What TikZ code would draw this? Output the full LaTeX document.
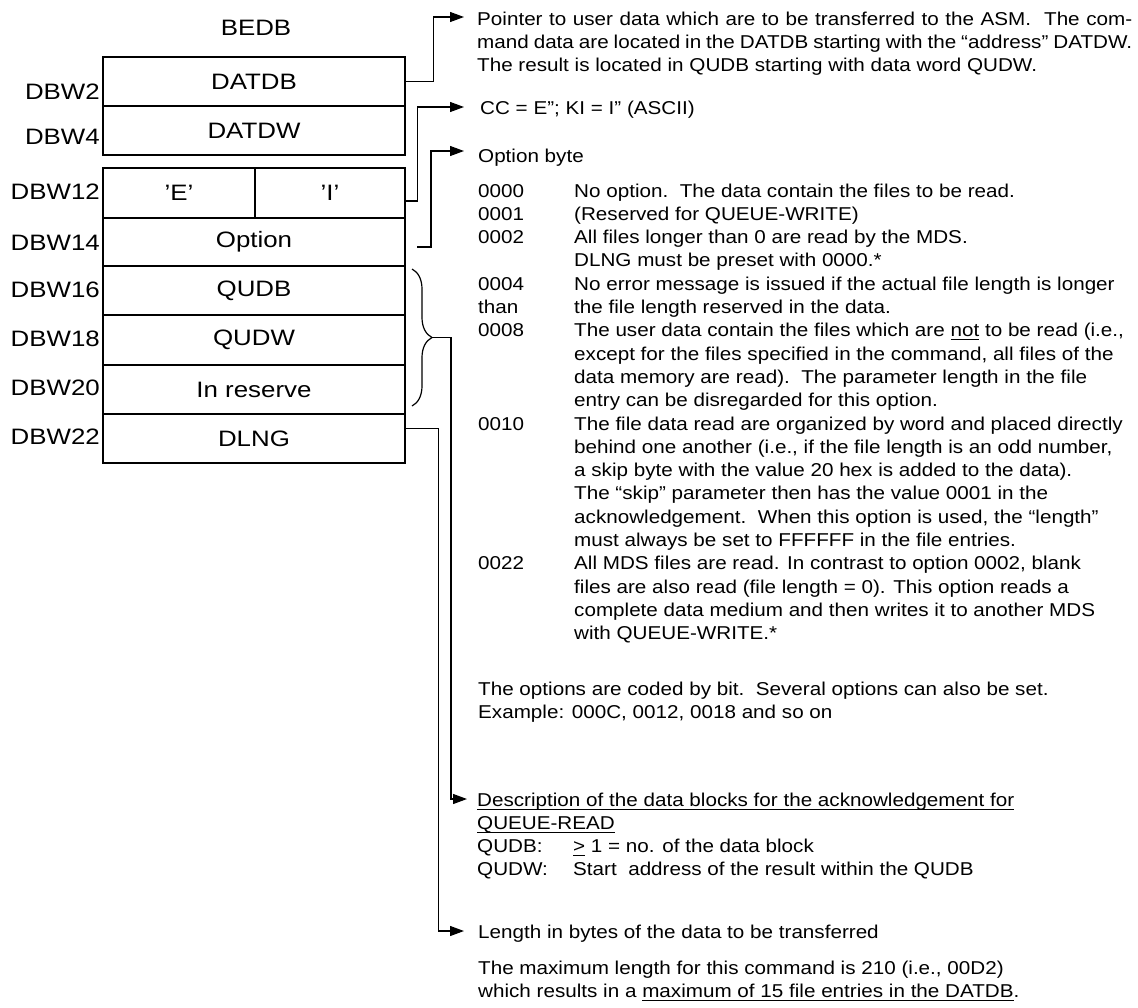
\documentclass[tikz,border=0pt]{standalone}
\usepackage{fontspec}
\setmainfont{Liberation Sans}[FakeStretch=1.11]
\newfontfamily\boxfont{Liberation Sans}[FakeStretch=1.16]
\usetikzlibrary{arrows.meta,decorations.pathreplacing}
\newcommand\myul[1]{\setbox0\hbox{#1}\rlap{\rule[-3.5pt]{\wd0}{1pt}}\box0\relax}
\begin{document}
\begin{tikzpicture}[x=1pt,y=-1pt,
  cell/.style={draw=black, line width=1.4pt, inner sep=0pt, minimum width=302pt,
    font={\boxfont\fontsize{22.3}{26}\selectfont}},
  lbl/.style={inner sep=0pt, anchor=east, font={\boxfont\fontsize{22.3}{26}\selectfont}},
  txt/.style={inner sep=0pt, anchor=base west, font={\fontsize{18.6}{23.3}\selectfont}},
  conn/.style={line width=1.2pt, draw=black},
  arr/.style={conn, -{Triangle[length=14pt,width=10pt]}}]
\fill[white] (0,0) rectangle (1138,1007);
\useasboundingbox (0,0) rectangle (1138,1007);

% title
\node[inner sep=0pt, font={\boxfont\fontsize{22.3}{26}\selectfont}] (bedb) at (256,28) {BEDB};

% boxes
\node[cell, minimum height=49pt] (datdb) at (254,81.5) {DATDB};
\node[cell, minimum height=49pt] (datdw) at (254,130.5) {DATDW};
\node[cell, minimum width=152pt, minimum height=50pt] (ce) at (179,193) {’E’};
\node[cell, minimum width=150pt, minimum height=50pt] (ci) at (330,193) {’I’};
\node[cell, minimum height=48pt] (opt) at (254,242) {Option};
\node[cell, minimum height=49pt] (qudb) at (254,290.5) {QUDB};
\node[cell, minimum height=50pt] (qudw) at (254,340) {QUDW};
\node[cell, minimum height=49pt] (inres) at (254,389.5) {In reserve};
\node[cell, minimum height=49pt] (dlng) at (254,438.5) {DLNG};

% left labels
\node[lbl] (l2) at (100,92) {DBW2};
\node[lbl] (l4) at (100,137) {DBW4};
\node[lbl] (l12) at (100,192) {DBW12};
\node[lbl] (l14) at (100,243) {DBW14};
\node[lbl] (l16) at (100,290) {DBW16};
\node[lbl] (l18) at (100,339) {DBW18};
\node[lbl] (l20) at (100,388) {DBW20};
\node[lbl] (l22) at (100,437) {DBW22};

% right texts
\node[txt] (p1) at (477,25) {\begin{tabular}[t]{@{}l@{}}
\makebox[655pt][s]{Pointer to user data which are to be transferred to the ASM.\ \ The com-}\\
\makebox[655pt][s]{mand data are located in the DATDB starting with the “address” DATDW.}\\
The result is located in QUDB starting with data word QUDW.
\end{tabular}};
\node[txt] (p2) at (480,114) {CC = E”; KI = I” (ASCII)};
\node[txt] (p3) at (478,162) {Option byte};
\node[txt] (p4) at (478,197) {\begin{tabular}[t]{@{}p{96pt}@{}l@{}}
0000 & No option.\ \ The data contain the files to be read.\\
0001 & (Reserved for QUEUE-WRITE)\\
0002 & All files longer than 0 are read by the MDS.\\
 & DLNG must be preset with 0000.*\\
0004 & No error message is issued if the actual file length is longer\\
than & the file length reserved in the data.\\
0008 & The user data contain the files which are \myul{not} to be read (i.e.,\\
 & except for the files specified in the command, all files of the\\
 & data memory are read).\ \ The parameter length in the file\\
 & entry can be disregarded for this option.\\
0010 & The file data read are organized by word and placed directly\\
 & behind one another (i.e., if the file length is an odd number,\\
 & a skip byte with the value 20 hex is added to the data).\\
 & The “skip” parameter then has the value 0001 in the\\
 & acknowledgement.\ \ When this option is used, the “length”\\
 & must always be set to FFFFFF in the file entries.\\
0022 & All MDS files are read. In contrast to option 0002, blank\\
 & files are also read (file length = 0). This option reads a\\
 & complete data medium and then writes it to another MDS\\
 & with QUEUE-WRITE.*
\end{tabular}};
\node[txt] (p5) at (478,695) {\begin{tabular}[t]{@{}l@{}}
The options are coded by bit.\ \ Several options can also be set.\\
Example: 000C, 0012, 0018 and so on
\end{tabular}};
\node[txt] (p6) at (477,806) {\begin{tabular}[t]{@{}p{96pt}@{}l@{}}
\multicolumn{2}{@{}l@{}}{\myul{Description of the data blocks for the acknowledgement for}}\\
\multicolumn{2}{@{}l@{}}{\myul{QUEUE-READ}}\\
QUDB: & \myul{>} 1 = no. of the data block\\
QUDW: & Start\ \ address of the result within the QUDB
\end{tabular}};
\node[txt] (p7) at (478,938) {Length in bytes of the data to be transferred};
\node[txt] (p8) at (478,974) {\begin{tabular}[t]{@{}l@{}}
The maximum length for this command is 210 (i.e., 00D2)\\
which results in a \myul{maximum of 15 file entries in the DATDB}.
\end{tabular}};

% arrow tips and free ends
\coordinate (a1) at (464,17);
\coordinate (a2) at (464,107);
\coordinate (a3) at (464,151);
\coordinate (a4) at (467,799);
\coordinate (a5) at (464,931);
\coordinate (o3) at (417,247);
\coordinate (bt) at (432,337.5);

% connectors
\draw[arr] (datdb.east) -- ++(28,0) |- (a1);
\draw[arr] ([yshift=-8pt]ci.east) -- ++(12,0) |- (a2);
\draw[arr] (o3) -- ++(14,0) |- (a3);
\draw[conn, decorate, decoration={brace, amplitude=20pt}] (412,269) -- (412,406);
\draw[arr] (bt) -- ++(19,0) |- (a4);
\draw[arr] ([yshift=10pt]dlng.east) -- ++(33,0) |- (a5);
\end{tikzpicture}
\end{document}
